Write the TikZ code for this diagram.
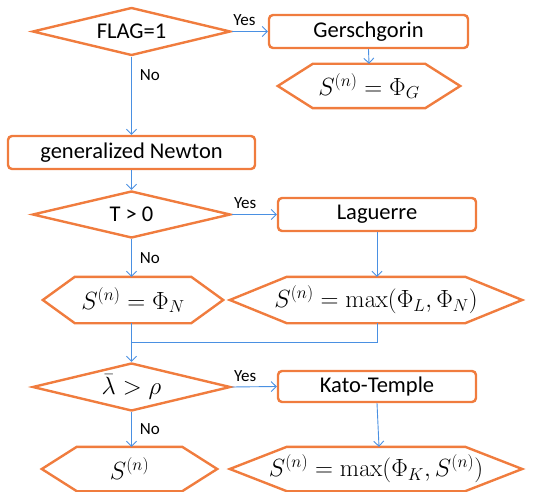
\documentclass[tikz,border=0pt]{standalone}
\usepackage[no-math]{fontspec}
\setmainfont{Carlito}
\usetikzlibrary{shapes.geometric,arrows.meta,calc}
\definecolor{oborder}{RGB}{240,124,62}
\definecolor{cblue}{RGB}{74,144,226}
\tikzset{
  box/.style={draw=oborder,line width=2.4pt,rounded corners=4pt,inner sep=0pt,font=\fontsize{22.5}{27}\selectfont},
  dia/.style={draw=oborder,line width=2.4pt,diamond,inner sep=0pt,font=\fontsize{22.5}{27}\selectfont},
  hexn/.style={inner sep=0pt,font=\fontsize{26}{30}\selectfont},
  hexline/.style={draw=oborder,line width=2.4pt,line join=miter},
  conn/.style={draw=cblue,line width=0.9pt,-{Straight Barb[length=5pt,width=10pt,line width=0.9pt]}},
  plain/.style={draw=cblue,line width=0.9pt},
  lbl/.style={font=\fontsize{17}{20}\selectfont,inner sep=0pt}
}
\newcommand{\hexdraw}[2]{%
  \draw[hexline] (#1.west) -- ([xshift=#2]#1.north west) -- ([xshift=-#2]#1.north east)
    -- (#1.east) -- ([xshift=-#2]#1.south east) -- ([xshift=#2]#1.south west) -- cycle;}
\begin{document}
\begin{tikzpicture}[x=1pt,y=-1pt]
\useasboundingbox (0,0) rectangle (533,492);
% row 1
\node[dia,minimum width=198pt,minimum height=48pt,aspect=4.1] (flag) at (131.5,31.5) {FLAG=1};
\node[box,minimum width=199pt,minimum height=33pt] (gers) at (368.5,31.5) {Gerschgorin};
\node[hexn,minimum width=182pt,minimum height=44pt] (hg) at (369,86) {$S^{(n)}=\Phi_G$};
\hexdraw{hg}{35pt}
% newton
\node[box,minimum width=247pt,minimum height=33pt] (newton) at (131.5,152.5) {generalized Newton};
% row T
\node[dia,minimum width=198pt,minimum height=47pt,aspect=4.2] (tdia) at (131.5,214.5) {T > 0};
\node[box,minimum width=198pt,minimum height=33pt] (lag) at (377,214.5) {Laguerre};
\node[hexn,minimum width=180pt,minimum height=46pt] (hn) at (133,300) {$S^{(n)}=\Phi_N$};
\hexdraw{hn}{32pt}
\node[hexn,minimum width=292pt,minimum height=46pt] (hl) at (376,300) {$S^{(n)}=\max(\Phi_L,\Phi_N)$};
\hexdraw{hl}{57pt}
\coordinate (merge) at (131.5,342);
% row lambda
\node[dia,minimum width=198pt,minimum height=48pt,aspect=4.1,font=\fontsize{26}{30}\selectfont] (ldia) at (131.5,387) {$\bar\lambda>\rho$};
\node[box,minimum width=198pt,minimum height=31pt] (kato) at (377,386.5) {Kato-Temple};
\node[hexn,minimum width=175pt,minimum height=44pt] (hs) at (129.5,469) {$S^{(n)}$};
\hexdraw{hs}{35pt}
\node[hexn,minimum width=292pt,minimum height=44pt] (hk) at (376,469) {$S^{(n)}=\max(\Phi_K,S^{(n)})$};
\hexdraw{hk}{57pt}
% connectors
\draw[conn] (flag.east) -- (gers.west) node[lbl,pos=0.35,above=5pt] {Yes};
\draw[conn] (gers.south) -- (hg.north);
\draw[conn] (flag.south) -- (newton.north) node[lbl,pos=0.24,right=8pt] {No};
\draw[conn] (newton.south) -- (tdia.north);
\draw[conn] (tdia.east) -- (lag.west) node[lbl,pos=0.3,above=5pt] {Yes};
\draw[conn] (tdia.south) -- (hn.north -| tdia.south) node[lbl,midway,right=8pt] {No};
\draw[conn] (lag.south) -- (hl.north -| lag.south);
\draw[plain] (hn.south -| merge) -- (merge);
\draw[plain] (hl.south -| lag.south) |- (merge);
\draw[conn] (merge) -- (ldia.north);
\draw[conn] (ldia.east) -- (kato.west) node[lbl,pos=0.3,above=5pt] {Yes};
\draw[conn] (ldia.south) -- (hs.north -| ldia.south) node[lbl,midway,right=8pt] {No};
\draw[conn] (kato.south) -- ([xshift=2pt]hk.north -| kato.south);
\end{tikzpicture}
\end{document}
